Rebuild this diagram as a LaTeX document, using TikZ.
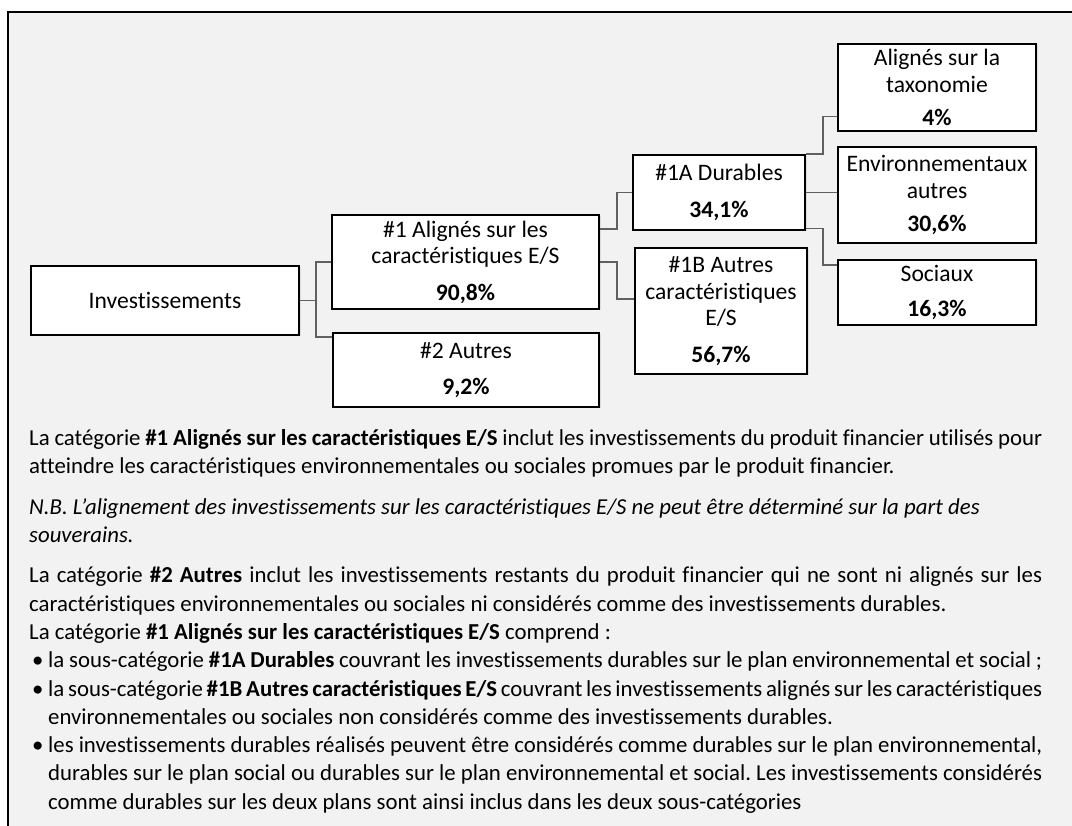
\documentclass[tikz,border=0pt]{standalone}
\usepackage{fontspec}
\setmainfont{Carlito}[Ligatures={NoCommon}]
\usetikzlibrary{calc,shadows}
\definecolor{bgc}{HTML}{F2F2F2}
\definecolor{lnc}{HTML}{606060}
\frenchspacing
\newcommand{\bulletitem}{\hangindent=19pt\hangafter=1\makebox[19pt][l]{\hspace{3pt}\textbullet}}
\begin{document}
\begin{tikzpicture}[x=1pt,y=-1pt,
  box/.style={draw=black,line width=1.6pt,fill=white,inner sep=0pt,align=center,
    font=\fontsize{23.6}{26.5}\selectfont,
    drop shadow={shadow xshift=1.5pt,shadow yshift=-1.5pt,opacity=0.18}},
  conn/.style={draw=lnc,line width=1.4pt},
  bodytext/.style={anchor=north west,inner sep=0pt,text width=1013pt,align=justify,
    font=\fontsize{22.8}{28.3}\selectfont}]
\useasboundingbox (0,0) rectangle (1072,826);
\fill[bgc] (8,12) rectangle (1072,826);
\draw[line width=2.5pt] (8,826) -- (8,12) -- (1072,12);

\node[box,minimum width=268pt,minimum height=69pt] (inv) at (165,300.5) {Investissements};
\node[box,minimum width=267pt,minimum height=94pt] (a1) at (465.5,262) {\#1 Alignés sur les\\caractéristiques E/S\\[10pt]\textbf{90,8\%}};
\node[box,minimum width=266pt,minimum height=74pt] (a2) at (466,370) {\#2 Autres\\[10pt]\textbf{9,2\%}};
\node[box,minimum width=172pt,minimum height=75pt] (d1a) at (719,192.5) {\#1A Durables\\[10pt]\textbf{34,1\%}};
\node[box,minimum width=172pt,minimum height=126pt] (d1b) at (721,311) {\#1B Autres\\caractéristiques\\E/S\\[10pt]\textbf{56,7\%}};
\node[box,minimum width=198pt,minimum height=87pt] (tax) at (937,87.5) {Alignés sur la\\taxonomie\\[7pt]\textbf{4\%}};
\node[box,minimum width=198pt,minimum height=96pt] (env) at (937,195) {Environnementaux\\autres\\[7pt]\textbf{30,6\%}};
\node[box,minimum width=198pt,minimum height=65pt] (soc) at (937,292.5) {Sociaux\\[9pt]\textbf{16,3\%}};

\draw[conn] (inv.east) -- ++(16,0) coordinate (j1) |- (a1.west);
\draw[conn] (j1) |- ($(a2.north west)+(0,5)$);
\draw[conn] ($(a1.north east)+(0,15)$) -- ++(17,0) coordinate (j2) |- (d1a.west);
\draw[conn] (a1.east) -- (a1.east -| j2) |- ($(d1b.north west)+(0,52)$);
\draw[conn] (d1a.north east) -- ++(17,0) coordinate (j3) |- ($(tax.south west)+(0,-15)$);
\draw[conn] (d1a.east) -- (d1a.east -| env.west);
\draw[conn] ($(d1a.south east)+(0,-2)$) -- ($(d1a.south east)+(17,-2)$) |- ($(soc.north west)+(0,6)$);

\node[bodytext] (txt) at (29,429) {\parindent=0pt\hyphenpenalty=10000\exhyphenpenalty=10000\emergencystretch=20pt
La catégorie \textbf{\#1 Alignés sur les caractéristiques E/S} inclut les investissements du produit financier utilisés pour\linebreak atteindre les caractéristiques environnementales ou sociales promues par le produit financier.\par\vspace{12.5pt}
\textit{N.B. L’alignement des investissements sur les caractéristiques E/S ne peut être déterminé sur la part des\\souverains.}\par\vspace{12pt}
La catégorie \textbf{\#2 Autres} inclut les investissements restants du produit financier qui ne sont ni alignés sur les\linebreak caractéristiques environnementales ou sociales ni considérés comme des investissements durables.\\
La catégorie \textbf{\#1 Alignés sur les caractéristiques E/S} comprend~:\par
\bulletitem la sous-catégorie \textbf{\#1A Durables} couvrant les investissements durables sur le plan environnemental et social~;\par
\bulletitem la sous-catégorie \textbf{\#1B Autres caractéristiques E/S} couvrant les investissements alignés sur les caractéristiques\linebreak environnementales ou sociales non considérés comme des investissements durables.\par
\bulletitem les investissements durables réalisés peuvent être considérés comme durables sur le plan environnemental,\linebreak durables sur le plan social ou durables sur le plan environnemental et social. Les investissements considérés\linebreak comme durables sur les deux plans sont ainsi inclus dans les deux sous-catégories\par};
\end{tikzpicture}
\end{document}
